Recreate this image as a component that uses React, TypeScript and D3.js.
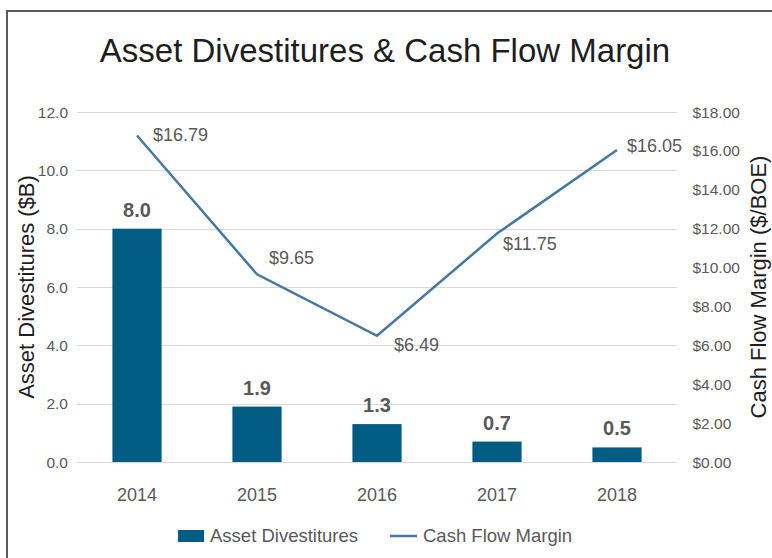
import * as d3 from 'd3';
import { useEffect, useRef } from 'react';

const years = ['2014', '2015', '2016', '2017', '2018'];
const divestitures = [8.0, 1.9, 1.3, 0.7, 0.5];
const cashFlowMargin = [16.79, 9.65, 6.49, 11.75, 16.05];
const leftTicks = [0, 2, 4, 6, 8, 10, 12];
const rightTicks = [0, 2, 4, 6, 8, 10, 12, 14, 16, 18];

// where each $ label sits relative to its point (dx, baseline dy)
const lineLabelOffsets = [[16, 5], [12, -10], [17, 15], [6, 16], [10, 2]];

const W = 772;
const H = 558;
const FONT = '"Liberation Sans", Arial, sans-serif';
const BAR = '#035c84';
const LINE = '#4478a2';

const App = () => {
  const svgRef = useRef<SVGSVGElement>(null);

  useEffect(() => {
    const svg = d3.select(svgRef.current).attr('width', W).attr('height', H);
    svg.selectAll('*').remove();

    const plot = { left: 77, right: 677, top: 112, bottom: 462 };

    const x = d3.scaleBand<string>()
      .domain(years)
      .range([plot.left, plot.right])
      .paddingInner(0.59)
      .paddingOuter(0.295);
    const yL = d3.scaleLinear().domain([0, 12]).range([plot.bottom, plot.top]);
    const yR = d3.scaleLinear().domain([0, 18]).range([plot.bottom, plot.top]);
    const cx = (d: string) => (x(d) as number) + x.bandwidth() / 2;

    svg.append('rect').attr('width', W).attr('height', H).attr('fill', '#fff');

    // frame
    svg.append('path')
      .attr('d', `M7,${H + 5}V11H${W + 5}`)
      .attr('fill', 'none')
      .attr('stroke', '#5a5a5a')
      .attr('stroke-width', 2);

    svg.append('text')
      .attr('x', 385)
      .attr('y', 62)
      .attr('text-anchor', 'middle')
      .attr('font-family', FONT)
      .attr('font-size', 33)
      .attr('fill', '#1e1e1e')
      .text('Asset Divestitures & Cash Flow Margin');

    // gridlines
    svg.append('g')
      .selectAll('line')
      .data(leftTicks)
      .join('line')
      .attr('x1', plot.left)
      .attr('x2', plot.right)
      .attr('y1', d => Math.round(yL(d)) + 0.5)
      .attr('y2', d => Math.round(yL(d)) + 0.5)
      .attr('stroke', '#d9d9d9')
      .attr('stroke-width', 1);

    // left axis labels
    svg.append('g')
      .selectAll('text')
      .data(leftTicks)
      .join('text')
      .attr('x', 68)
      .attr('y', d => yL(d))
      .attr('dy', '0.36em')
      .attr('text-anchor', 'end')
      .attr('font-family', FONT)
      .attr('font-size', 15.5)
      .attr('fill', '#595959')
      .text(d => d3.format('.1f')(d));

    // right axis labels
    svg.append('g')
      .selectAll('text')
      .data(rightTicks)
      .join('text')
      .attr('x', 692.5)
      .attr('y', d => yR(d))
      .attr('dy', '0.36em')
      .attr('font-family', FONT)
      .attr('font-size', 15.5)
      .attr('fill', '#595959')
      .text(d => '$' + d3.format('.2f')(d));

    // x labels
    svg.append('g')
      .selectAll('text')
      .data(years)
      .join('text')
      .attr('x', d => cx(d))
      .attr('y', 501)
      .attr('text-anchor', 'middle')
      .attr('font-family', FONT)
      .attr('font-size', 18)
      .attr('fill', '#595959')
      .text(d => d);

    // axis titles
    svg.append('text')
      .attr('transform', `translate(33.5,${(plot.top + plot.bottom) / 2}) rotate(-90)`)
      .attr('text-anchor', 'middle')
      .attr('font-family', FONT)
      .attr('font-size', 22)
      .attr('fill', '#1e1e1e')
      .text('Asset Divestitures ($B)');
    svg.append('text')
      .attr('transform', `translate(766,${(plot.top + plot.bottom) / 2}) rotate(-90)`)
      .attr('text-anchor', 'middle')
      .attr('font-family', FONT)
      .attr('font-size', 22)
      .attr('fill', '#1e1e1e')
      .text('Cash Flow Margin ($/BOE)');

    // bars
    svg.append('g')
      .selectAll('rect')
      .data(divestitures)
      .join('rect')
      .attr('x', (d, i) => x(years[i]) as number)
      .attr('y', d => yL(d))
      .attr('width', x.bandwidth())
      .attr('height', d => yL(0) - yL(d))
      .attr('fill', BAR);

    svg.append('g')
      .selectAll('text')
      .data(divestitures)
      .join('text')
      .attr('x', (d, i) => cx(years[i]))
      .attr('y', d => yL(d) - 12)
      .attr('text-anchor', 'middle')
      .attr('font-family', FONT)
      .attr('font-size', 20)
      .attr('font-weight', 'bold')
      .attr('fill', '#595959')
      .text(d => d3.format('.1f')(d));

    // line
    const line = d3.line<number>()
      .x((d, i) => cx(years[i]))
      .y(d => yR(d));
    svg.append('path')
      .datum(cashFlowMargin)
      .attr('d', line)
      .attr('fill', 'none')
      .attr('stroke', LINE)
      .attr('stroke-width', 2.5);

    svg.append('g')
      .selectAll('text')
      .data(cashFlowMargin)
      .join('text')
      .attr('x', (d, i) => cx(years[i]) + lineLabelOffsets[i][0])
      .attr('y', (d, i) => yR(d) + lineLabelOffsets[i][1])
      .attr('font-family', FONT)
      .attr('font-size', 18)
      .attr('fill', '#595959')
      .text(d => '$' + d3.format('.2f')(d));

    // legend
    const lg = svg.append('g').attr('font-family', FONT).attr('font-size', 18.5).attr('fill', '#595959');
    lg.append('rect').attr('x', 178).attr('y', 530).attr('width', 26).attr('height', 12).attr('fill', BAR);
    lg.append('text').attr('x', 210).attr('y', 542).text('Asset Divestitures');
    lg.append('line')
      .attr('x1', 390).attr('x2', 417).attr('y1', 536).attr('y2', 536)
      .attr('stroke', LINE).attr('stroke-width', 2.5);
    lg.append('text').attr('x', 423).attr('y', 542).text('Cash Flow Margin');
  }, []);

  return (
    <div style={{ position: 'absolute', left: 0, top: 0 }}>
      <svg ref={svgRef} style={{ display: 'block' }} />
    </div>
  );
};

export default App;
